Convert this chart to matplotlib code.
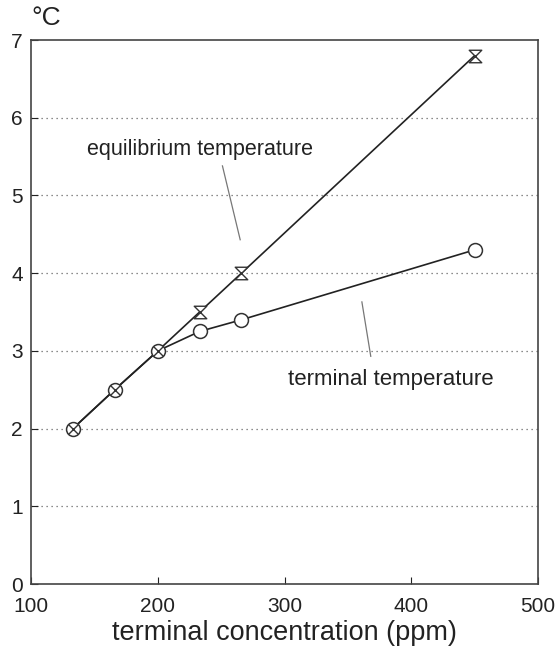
import matplotlib
matplotlib.use("Agg")
import matplotlib.pyplot as plt
from matplotlib.path import Path

plt.rcParams['font.family'] = ['Liberation Sans', 'DejaVu Sans']

# datos
conc_comun = [133, 166, 200]
temp_comun = [2.0, 2.5, 3.0]

conc_eq = [200, 233, 266, 450]
temp_eq = [3.0, 3.5, 4.0, 6.8]

conc_term = [200, 233, 266, 450]
temp_term = [3.0, 3.25, 3.4, 4.3]

xticks = [100, 200, 300, 400, 500]
yticks = [0, 1, 2, 3, 4, 5, 6, 7]
grid_y = [1, 2, 3, 4, 5, 6]

# marcador de reloj de arena
reloj = Path([(-1, 1), (1, 1), (-1, -1), (1, -1), (-1, 1)],
             [Path.MOVETO, Path.LINETO, Path.LINETO, Path.LINETO, Path.CLOSEPOLY])

fig = plt.figure(figsize=(5.56, 6.57), dpi=100)
ax = fig.add_axes([0.0558, 0.1111, 0.912, 0.828])

for y in grid_y:
    ax.axhline(y, color="#666666", linestyle=(0, (1, 3)), linewidth=0.9, zorder=0)

ax.plot(conc_comun + conc_eq[1:], temp_comun + temp_eq[1:], color="#222222", linewidth=1.2, zorder=2)
ax.plot(conc_comun + conc_term[1:], temp_comun + temp_term[1:], color="#222222", linewidth=1.2, zorder=2)

# circulos con X
ax.plot(conc_comun, temp_comun, linestyle="none", marker="o", markersize=10,
        markerfacecolor="white", markeredgecolor="#333333", markeredgewidth=1.1, zorder=3)
ax.plot(conc_comun, temp_comun, linestyle="none", marker="x", markersize=7,
        markeredgecolor="#333333", markeredgewidth=1.0, zorder=4)

ax.plot(conc_eq[1:], temp_eq[1:], linestyle="none", marker=reloj, markersize=9,
        markerfacecolor="white", markeredgecolor="#333333", markeredgewidth=1.0, zorder=3)
ax.plot(conc_term[1:], temp_term[1:], linestyle="none", marker="o", markersize=10,
        markerfacecolor="white", markeredgecolor="#333333", markeredgewidth=1.1, zorder=3)

ax.text(233, 5.59, "equilibrium temperature", fontsize=15.5, ha="center", va="center", color="#222222")
ax.plot([251, 265], [5.38, 4.43], color="#777777", linewidth=0.9)
ax.text(384, 2.63, "terminal temperature", fontsize=16, ha="center", va="center", color="#222222")
ax.plot([361, 368], [3.63, 2.93], color="#777777", linewidth=0.9)

ax.set_xlim(100, 500)
ax.set_ylim(0, 7)
ax.set_xticks(xticks)
ax.set_yticks(yticks)
ax.tick_params(direction="in", length=5, labelsize=15, colors="#222222")
ax.tick_params(axis="x", pad=9)
ax.tick_params(axis="y", pad=6)
for s in ax.spines.values():
    s.set_color("#444444")
    s.set_linewidth(1.2)

ax.set_xlabel("terminal concentration (ppm)", fontsize=19.5, labelpad=3, color="#222222")
fig.text(0.083, 0.972, "°C", fontsize=19, ha="center", va="center", color="#222222")

plt.savefig("out.png", dpi=100)
